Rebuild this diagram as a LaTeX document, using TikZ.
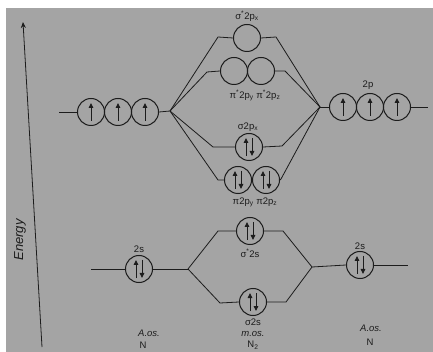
\documentclass[tikz,border=0pt]{standalone}
\usepackage{fontspec}
\setmainfont{Liberation Sans}
\usetikzlibrary{arrows.meta}
\definecolor{paper}{RGB}{164,164,164}
\definecolor{ink}{RGB}{28,28,28}
\begin{document}
\begin{tikzpicture}[x=1pt,y=-1pt,
 orb/.style={circle, draw=ink, line width=1pt, minimum size=27pt, inner sep=0pt},
 el/.style={draw=ink, line width=0.9pt, -{Triangle[length=5pt,width=4.5pt]}},
 one/.style={orb, path picture={\draw[el] ([yshift=-9pt]path picture bounding box.center) -- ([yshift=9pt]path picture bounding box.center);}},
 two/.style={orb, path picture={\draw[el] ([xshift=-3pt,yshift=-9pt]path picture bounding box.center) -- ([xshift=-3pt,yshift=9pt]path picture bounding box.center);
   \draw[el] ([xshift=3pt,yshift=9pt]path picture bounding box.center) -- ([xshift=3pt,yshift=-9pt]path picture bounding box.center);}},
 conn/.style={draw=ink, line width=0.8pt},
 lab/.style={text=ink, font=\fontsize{9.5}{11}\selectfont, inner sep=0pt},
 hand/.style={text=ink, font=\itshape\fontsize{9.5}{11}\selectfont, inner sep=0pt}]
\useasboundingbox (0,0) rectangle (433,352);
\fill[white] (0,0) rectangle (433,352);
\fill[paper] (6,8) rectangle (433,352);
% energy axis
\coordinate (ax0) at (42,347);
\coordinate (ax1) at (23,22);
\draw[ink, line width=0.8pt, -{Stealth[length=6pt,width=5pt]}] (ax0) -- (ax1);
\node[rotate=90, text=ink, font=\itshape\fontsize{13}{14}\selectfont, inner sep=0pt] (en) at (20,240) {Energy};
% left 2p
\node[one] (L1) at (91,112) {};
\node[one] (L2) at (118,112) {};
\node[one] (L3) at (145,112) {};
\coordinate (L0) at (59,112);
\coordinate (ML) at (170,111);
\draw[conn] (L0) -- (L1.west);
\draw[conn] (L3.east) -- (ML);
% right 2p
\node[one] (R1) at (343,107) {};
\node[one] (R2) at (370,107) {};
\node[one] (R3) at (397,107) {};
\coordinate (MR) at (320,107);
\coordinate (R0) at (428,107);
\draw[conn] (MR) -- (R1.west);
\draw[conn] (R3.east) -- (R0);
\node[lab] (l2p) at (368,85) {2p};
% sigma* 2px
\node[orb] (S1) at (247,38) {};
\coordinate (a1) at (218,37);
\coordinate (a2) at (276,37);
\draw[conn] (ML) -- (a1) -- (S1.west);
\draw[conn] (S1.east) -- (a2) -- (MR);
\node[lab] (lS1) at (247,16) {σ\textsuperscript{*}2p\textsubscript{x}};
% pi* 2p
\node[orb] (P1) at (234,71) {};
\node[orb] (P2) at (261,71) {};
\coordinate (b1) at (207,72);
\coordinate (b2) at (285,71);
\draw[conn] (ML) -- (b1) -- (P1.west);
\draw[conn] (P2.east) -- (b2) -- (MR);
\node[lab] (lP) at (255,95) {π\textsuperscript{*}2p\textsubscript{y} π\textsuperscript{*}2p\textsubscript{z}};
% sigma 2px
\node[two] (S2) at (249,147) {};
\coordinate (c1) at (213,147);
\coordinate (c2) at (282,146);
\draw[conn] (ML) -- (c1) -- (S2.west);
\draw[conn] (S2.east) -- (c2) -- (MR);
\node[lab] (lS2) at (248,127) {σ2p\textsubscript{x}};
% pi 2p
\node[two] (Q1) at (238,180) {};
\node[two] (Q2) at (266,180) {};
\coordinate (d1) at (218,180);
\coordinate (d2) at (281,179);
\draw[conn] (ML) -- (d1) -- (Q1.west);
\draw[conn] (Q2.east) -- (d2) -- (MR);
\node[lab] (lQ) at (255,202) {π2p\textsubscript{y} π2p\textsubscript{z}};
% left 2s
\node[two] (A) at (139,269) {};
\coordinate (A0) at (91,269);
\coordinate (ML2) at (188,269);
\draw[conn] (A0) -- (A.west);
\draw[conn] (A.east) -- (ML2);
\node[lab] (lA) at (139,249) {2s};
% sigma* 2s
\node[two] (B) at (250,231) {};
\coordinate (e1) at (218,231);
\coordinate (e2) at (283,231);
\coordinate (MR2) at (312,267);
\draw[conn] (ML2) -- (e1) -- (B.west);
\draw[conn] (B.east) -- (e2) -- (MR2);
\node[lab] (lB) at (250,253) {σ\textsuperscript{*}2s};
% sigma 2s
\node[two] (C) at (253,302) {};
\coordinate (f1) at (220,303);
\coordinate (f2) at (286,302);
\draw[conn] (ML2) -- (f1) -- (C.west);
\draw[conn] (C.east) -- (f2) -- (MR2);
\node[lab] (lC) at (253,322) {σ2s};
\node[hand] (lCm) at (253,334) {m.os.};
\node[lab] (lCn) at (253,345) {N\textsubscript{2}};
% right 2s
\node[two] (D) at (360,265) {};
\coordinate (D0) at (408,265);
\draw[conn] (MR2) -- (D.west);
\draw[conn] (D.east) -- (D0);
\node[lab] (lD) at (360,246) {2s};
% atom labels
\node[hand] (lAo) at (149,333) {A.os.};
\node[lab] (lAn) at (143,345) {N};
\node[hand] (lDo) at (371,328) {A.os.};
\node[lab] (lDn) at (370,342) {N};
\end{tikzpicture}
\end{document}
